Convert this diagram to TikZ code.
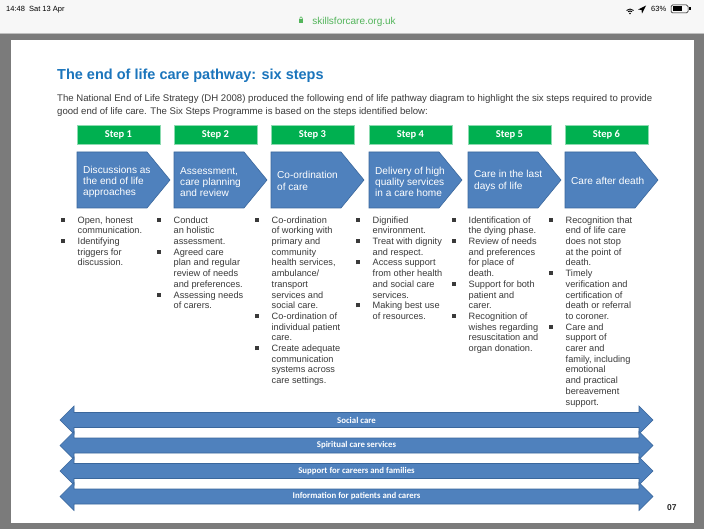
\documentclass[tikz,border=0pt]{standalone}
\usepackage{fontspec}
\setmainfont{Liberation Sans}
\newfontfamily\calibri{Carlito}
\definecolor{flagblue}{HTML}{4F81BD}
\definecolor{flagedge}{HTML}{3A679C}
\definecolor{stepgreen}{HTML}{00B050}
\definecolor{titleblue}{HTML}{1B75BC}
\definecolor{framegrey}{HTML}{7B7B7B}
\definecolor{barwhite}{HTML}{F7F7F7}
\definecolor{urlgreen}{HTML}{53B55B}
\definecolor{bodygrey}{HTML}{3A3A3A}
\newcommand{\blt}{\rule[1.5pt]{4pt}{4pt}}
\usetikzlibrary{positioning}
\begin{document}
\begin{tikzpicture}[x=1pt, y=-1pt]
  \tikzset{stephead/.style={fill=stepgreen, draw=stepgreen!45!white, line width=0.6pt, minimum width=83pt, minimum height=19pt, inner sep=0pt, text=white, font=\calibri\bfseries\fontsize{10.5}{12}\selectfont},
    flag/.style={fill=flagblue, draw=flagedge, line width=0.6pt},
    flagtext/.style={anchor=west, align=left, inner sep=0pt, text=white, font=\fontsize{10.1}{11.3}\selectfont},
    points/.style={anchor=north west, inner sep=0pt, text=bodygrey, font=\fontsize{9.2}{10.7}\selectfont},
    bandtext/.style={inner sep=0pt, text=white, font=\calibri\bfseries\fontsize{8.8}{10}\selectfont}}
  \useasboundingbox (0,0) rectangle (704,529);
  % screen, status bar and page
  \fill[framegrey] (0,0) rectangle (704,529);
  \fill[barwhite] (0,0) rectangle (704,33);
  \draw[black!25] (0,33) -- (704,33);
  \fill[white] (11,40) rectangle (694,523);
  \node[anchor=base west, inner sep=0pt, font=\fontsize{7.5}{9}\selectfont] (clock) at (6,11.5) {14:48\ \ Sat 13 Apr};
  \node[anchor=base, inner sep=0pt, text=urlgreen, font=\fontsize{10}{12}\selectfont] (url) at (354,24.5) {skillsforcare.org.uk};
  \fill[urlgreen] (299,19.5) rectangle (303,23.5);
  \draw[urlgreen, line width=0.6pt] (299.8,19.5) -- (299.8,18) arc (180:360:1.2) -- (302.2,19.5);
  \node[anchor=base west, inner sep=0pt, font=\fontsize{7.5}{9}\selectfont] (charge) at (651,11.5) {63\%};
  \draw[line width=0.9pt] (626.5,10.5) arc (225:315:5);
  \draw[line width=0.9pt] (628,11.8) arc (225:315:2.9);
  \fill (630,13.5) circle (0.9);
  \fill (638,9.5) -- (646,5.5) -- (642,13.5) -- (641.5,10) -- cycle;
  \draw[line width=0.5pt, rounded corners=1.5pt] (671,5) rectangle (688,13);
  \fill (672.5,6.5) rectangle (682,11.5);
  \fill (689,7.5) rectangle (690.5,10.5);
  % heading
  \node[anchor=base west, inner sep=0pt, text=titleblue, font=\bfseries\fontsize{14.5}{17}\selectfont] (title) at (57,80) {The end of life care pathway: six steps};
  \node[anchor=base west, inner sep=0pt, text=bodygrey, font=\fontsize{9.6}{13}\selectfont] (intro1) at (57,102) {The National End of Life Strategy (DH 2008) produced the following end of life pathway diagram to highlight the six steps required to provide};
  \node[anchor=base west, inner sep=0pt, text=bodygrey, font=\fontsize{9.6}{13}\selectfont] (intro2) at (57,115) {good end of life care. The Six Steps Programme is based on the steps identified below:};
  % step headers
  \node[stephead] (head1) at (118.5,134.5) {Step 1};
  \node[stephead] (head2) at (215.5,134.5) {Step 2};
  \node[stephead] (head3) at (312.5,134.5) {Step 3};
  \node[stephead] (head4) at (410.5,134.5) {Step 4};
  \node[stephead] (head5) at (509.5,134.5) {Step 5};
  \node[stephead] (head6) at (606.5,134.5) {Step 6};
  % step arrows
  \draw[flag] (77,152) -- ++(70,0) -- ++(23,28) -- ++(-23,28) -- ++(-70,0) -- cycle;
  \draw[flag] (174,152) -- ++(70,0) -- ++(23,28) -- ++(-23,28) -- ++(-70,0) -- cycle;
  \draw[flag] (271,152) -- ++(70,0) -- ++(23,28) -- ++(-23,28) -- ++(-70,0) -- cycle;
  \draw[flag] (369,152) -- ++(70,0) -- ++(23,28) -- ++(-23,28) -- ++(-70,0) -- cycle;
  \draw[flag] (468,152) -- ++(70,0) -- ++(23,28) -- ++(-23,28) -- ++(-70,0) -- cycle;
  \draw[flag] (565,152) -- ++(70,0) -- ++(23,28) -- ++(-23,28) -- ++(-70,0) -- cycle;
  \node[flagtext] (task1) at (83,182) {Discussions as\\the end of life\\approaches};
  \node[flagtext] (task2) at (180,182) {Assessment,\\care planning\\and review};
  \node[flagtext] (task3) at (277,181) {Co-ordination\\of care};
  \node[flagtext] (task4) at (375,182) {Delivery of high\\quality services\\in a care home};
  \node[flagtext] (task5) at (474,181) {Care in the last\\days of life};
  \node[flagtext] (task6) at (571,181) {Care after death};
  % bullet lists
  \node[points] (list1) at (60.5,215.5) {\begin{tabular}{@{}l@{\hspace{13pt}}l@{}}
    \blt & Open, honest\\ & communication.\\
    \blt & Identifying\\ & triggers for\\ & discussion.\end{tabular}};
  \node[points] (list2) at (156.5,215.5) {\begin{tabular}{@{}l@{\hspace{13pt}}l@{}}
    \blt & Conduct\\ & an holistic\\ & assessment.\\
    \blt & Agreed care\\ & plan and regular\\ & review of needs\\ & and preferences.\\
    \blt & Assessing needs\\ & of carers.\end{tabular}};
  \node[points] (list3) at (254.5,215.5) {\begin{tabular}{@{}l@{\hspace{13pt}}l@{}}
    \blt & Co-ordination\\ & of working with\\ & primary and\\ & community\\ & health services,\\ & ambulance/\\ & transport\\ & services and\\ & social care.\\
    \blt & Co-ordination of\\ & individual patient\\ & care.\\
    \blt & Create adequate\\ & communication\\ & systems across\\ & care settings.\end{tabular}};
  \node[points] (list4) at (355.5,215.5) {\begin{tabular}{@{}l@{\hspace{13pt}}l@{}}
    \blt & Dignified\\ & environment.\\
    \blt & Treat with dignity\\ & and respect.\\
    \blt & Access support\\ & from other health\\ & and social care\\ & services.\\
    \blt & Making best use\\ & of resources.\end{tabular}};
  \node[points] (list5) at (451.5,215.5) {\begin{tabular}{@{}l@{\hspace{13pt}}l@{}}
    \blt & Identification of\\ & the dying phase.\\
    \blt & Review of needs\\ & and preferences\\ & for place of\\ & death.\\
    \blt & Support for both\\ & patient and\\ & carer.\\
    \blt & Recognition of\\ & wishes regarding\\ & resuscitation and\\ & organ donation.\end{tabular}};
  \node[points] (list6) at (548.5,215.5) {\begin{tabular}{@{}l@{\hspace{13pt}}l@{}}
    \blt & Recognition that\\ & end of life care\\ & does not stop\\ & at the point of\\ & death.\\
    \blt & Timely\\ & verification and\\ & certification of\\ & death or referral\\ & to coroner.\\
    \blt & Care and\\ & support of\\ & carer and\\ & family, including\\ & emotional\\ & and practical\\ & bereavement\\ & support.\end{tabular}};
  % support bands
  \draw[flag] (60,420) -- ++(14,-14) -- ++(0,6.5) -- ++(565,0) -- ++(0,-6.5) -- ++(14,14) -- ++(-14,14) -- ++(0,-6.5) -- ++(-565,0) -- ++(0,6.5) -- cycle;
  \draw[flag] (60,445.5) -- ++(14,-14) -- ++(0,6.5) -- ++(565,0) -- ++(0,-6.5) -- ++(14,14) -- ++(-14,14) -- ++(0,-6.5) -- ++(-565,0) -- ++(0,6.5) -- cycle;
  \draw[flag] (60,471) -- ++(14,-14) -- ++(0,6.5) -- ++(565,0) -- ++(0,-6.5) -- ++(14,14) -- ++(-14,14) -- ++(0,-6.5) -- ++(-565,0) -- ++(0,6.5) -- cycle;
  \draw[flag] (60,496.5) -- ++(14,-14) -- ++(0,6.5) -- ++(565,0) -- ++(0,-6.5) -- ++(14,14) -- ++(-14,14) -- ++(0,-6.5) -- ++(-565,0) -- ++(0,6.5) -- cycle;
  \node[bandtext] (social) at (356.5,420) {Social care};
  \node[bandtext] (spiritual) at (356.5,445.5) {Spiritual care services};
  \node[bandtext] (families) at (356.5,471) {Support for careers and families};
  \node[bandtext] (info) at (356.5,496.5) {Information for patients and carers};
  \node[anchor=base west, inner sep=0pt, text=black!85, font=\bfseries\fontsize{8.5}{10}\selectfont] (pageno) at (667,510) {07};
\end{tikzpicture}
\end{document}
